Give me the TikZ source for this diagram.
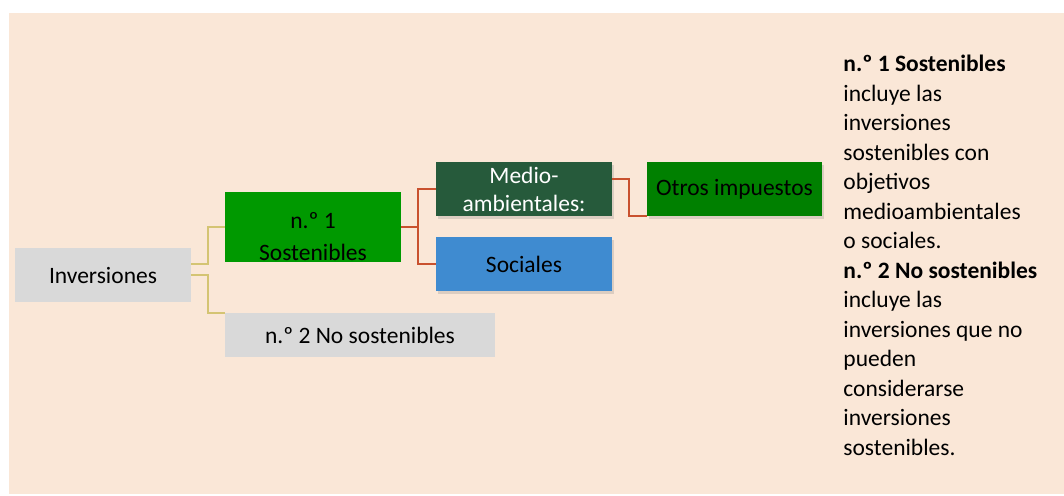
\documentclass[tikz,border=0pt]{standalone}
\usepackage{fontspec}
\setmainfont{Carlito}
\usetikzlibrary{shadows}

\definecolor{peach}{HTML}{FAE7D7}
\definecolor{boxgray}{HTML}{D9D9D9}
\definecolor{brightgreen}{HTML}{009900}
\definecolor{darkgreen}{HTML}{265A3B}
\definecolor{midblue}{HTML}{3F8BD0}
\definecolor{webgreen}{HTML}{008000}
\definecolor{olive}{HTML}{D4C473}
\definecolor{rust}{HTML}{C9512E}

\begin{document}
\begin{tikzpicture}[x=0.5pt,y=-0.5pt,
    box/.style={inner sep=0pt,align=center,minimum width=88pt,minimum height=27pt,
      font=\fontsize{11.75}{14}\selectfont},
    shade/.style={drop shadow={shadow xshift=1.2pt,shadow yshift=-1.5pt,opacity=0.25}},
    linkA/.style={draw=olive,line width=1pt},
    linkB/.style={draw=rust,line width=1pt}]
    \useasboundingbox (0,0) rectangle (1064,495);
    \fill[peach] (9,13) rectangle (1064,494);
    % boxes
    \node[box,fill=boxgray] (inv) at (103,275) {Inversiones};
    \node[box,fill=brightgreen,minimum height=35pt] (sost) at (313,227) {};
    \node[box,align=center] at ([yshift=-4.75pt]sost.center) {n.º 1\\[2pt]Sostenibles};
    \node[box,fill=boxgray,minimum width=135pt,minimum height=22pt] (nosost) at (360,335) {n.º 2 No sostenibles};
    \node[box,shade,fill=darkgreen,text=white] (medio) at (524,189) {Medio-\\ambientales:};
    \node[box,shade,fill=midblue] (soc) at (524,264) {Sociales};
    \node[box,shade,fill=webgreen,minimum width=87.5pt] (otros) at (734.5,189) {Otros impuestos};
    % links
    \draw[linkA] ([yshift=5.5pt]inv.east) -- ++(17,0) |- (sost.west);
    \draw[linkA] (inv.east) -- ++(17,0) |- (nosost.north west);
    \draw[linkB] (sost.east) -- ++(17,0) |- (medio.west);
    \draw[linkB] (sost.east) -- ++(17,0) |- (soc.west);
    \draw[linkB] ([yshift=5pt]medio.east) -- ++(17,0) |- (otros.south west);
    % notes
    \node[anchor=north west,inner sep=0pt,align=left,font=\fontsize{11.75}{14.75}\selectfont] (notes) at (843,55)
      {\textbf{n.º 1 Sostenibles}\\incluye las\\inversiones\\sostenibles con\\objetivos\\medioambientales\\o sociales.\\
       \textbf{n.º 2 No sostenibles}\\incluye las\\inversiones que no\\pueden\\considerarse\\inversiones\\sostenibles.};
\end{tikzpicture}
\end{document}
